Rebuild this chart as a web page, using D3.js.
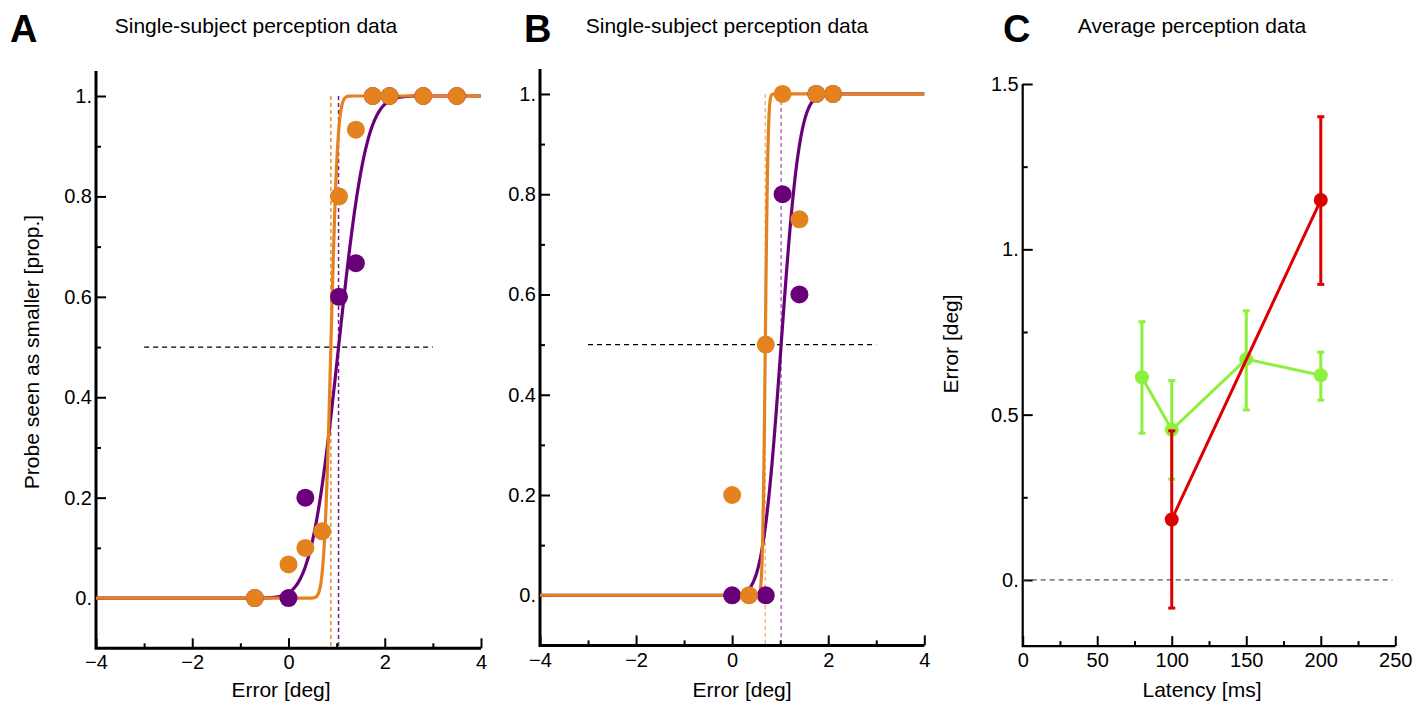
<!DOCTYPE html>
<html>
<head>
<meta charset="utf-8">
<script src="https://cdn.jsdelivr.net/npm/d3@7"></script>
<style>
  body { margin: 0; background: #fff; }
  text { font-family: "Liberation Sans", Arial, Helvetica, sans-serif; fill: #000; }
</style>
</head>
<body>
<div id="chart"></div>
<script>
// single-subject data, [error deg, proportion]
const purpleA = [[-0.7, 0], [0, 0], [0.35, 0.2], [1.05, 0.6], [1.4, 0.667], [1.75, 1], [2.1, 1], [2.8, 1], [3.5, 1]];
const orangeA = [[-0.7, 0], [0, 0.067], [0.35, 0.1], [0.7, 0.133], [1.05, 0.8], [1.4, 0.933], [1.75, 1], [2.1, 1], [2.8, 1], [3.5, 1]];
const purpleB = [[0, 0], [0.7, 0], [1.05, 0.8], [1.4, 0.6], [1.75, 1], [2.1, 1]];
const orangeB = [[0, 0.2], [0.35, 0], [0.7, 0.5], [1.05, 1], [1.4, 0.75], [1.75, 1], [2.1, 1]];

// fitted psychometric curves [mu, sigma]: purple, orange
const fitA = [[1.04, 0.45], [0.88, 0.11]];
const fitB = [[1.02, 0.3], [0.69, 0.045]];
const halfLine = [-3, 3];

// average data
const latency = [80, 100, 150, 200];
const greenMean = [0.613, 0.454, 0.668, 0.619];
const greenLo = [0.444, 0.305, 0.514, 0.544];
const greenHi = [0.781, 0.603, 0.814, 0.689];
const redLatency = [100, 200];
const redMean = [0.183, 1.149];
const redLo = [-0.085, 0.894];
const redHi = [0.451, 1.401];

// ticks
const errTicks = [-4, -2, 0, 2, 4];
const errMinor = [-3, -1, 1, 3];
const propTicks = [0, 0.2, 0.4, 0.6, 0.8, 1];
const propMinor = [0.1, 0.3, 0.5, 0.7, 0.9];
const latTicks = [0, 50, 100, 150, 200, 250];
const latMinor = [25, 75, 125, 175, 225];
const degTicks = [0, 0.5, 1, 1.5];
const degMinor = [0.25, 0.75, 1.25];

const PURPLE = "#690079", ORANGE = "#e3821f", GREEN = "#8cf03c", RED = "#dd0000";

const width = 1427, height = 702;
const svg = d3.select("#chart").append("svg")
  .attr("width", width).attr("height", height);

const fmtY = v => Number.isInteger(v) ? v + "." : String(v);

// normal cdf
function erf(x) {
  var s = x < 0 ? -1 : 1; x = Math.abs(x);
  var t = 1 / (1 + 0.3275911 * x);
  var y = 1 - (((((1.061405429 * t - 1.453152027) * t) + 1.421413741) * t - 0.284496736) * t + 0.254829592) * t * Math.exp(-x * x);
  return s * y;
}
var cdf = (x, mu, sd) => 0.5 * (1 + erf((x - mu) / (sd * Math.SQRT2)));

function drawAxes(g, x, y, xt, xm, yt, ym, xfmt, yfmt, lw) {
  var x0 = x.range()[0], x1 = x.range()[1];
  var yb = y.range()[0], yt0 = y.range()[1];

  g.append("g").attr("transform", "translate(0," + yb + ")")
    .call(d3.axisBottom(x).tickValues(xt).tickSize(-10).tickSizeOuter(0).tickPadding(7).tickFormat(xfmt))
    .call(a => a.select(".domain").remove());
  g.append("g").attr("transform", "translate(0," + yb + ")")
    .call(d3.axisBottom(x).tickValues(xm).tickSize(-5).tickSizeOuter(0).tickFormat(""))
    .call(a => a.select(".domain").remove());
  g.append("g").attr("transform", "translate(" + x0 + ",0)")
    .call(d3.axisLeft(y).tickValues(yt).tickSize(-10).tickSizeOuter(0).tickPadding(4).tickFormat(yfmt))
    .call(a => a.select(".domain").remove());
  g.append("g").attr("transform", "translate(" + x0 + ",0)")
    .call(d3.axisLeft(y).tickValues(ym).tickSize(-5).tickSizeOuter(0).tickFormat(""))
    .call(a => a.select(".domain").remove());

  g.selectAll(".tick line").attr("stroke", "#000").attr("stroke-width", 2);
  g.selectAll(".tick text").style("font-size", "20px").attr("fill", "#000");

  g.append("path")
    .attr("d", "M" + x0 + "," + yt0 + "V" + yb + "H" + x1)
    .attr("fill", "none").attr("stroke", "#000").attr("stroke-width", lw);
}

function psychPanel(opt) {
  var g = svg.append("g");
  var x = d3.scaleLinear().domain([-4, 4]).range(opt.xr);
  var y = d3.scaleLinear().domain([-0.1, 1.05]).range(opt.yr);

  drawAxes(g, x, y, errTicks, errMinor, propTicks, propMinor, d3.format("d"), fmtY, 3);

  g.append("line")
    .attr("x1", x(halfLine[0])).attr("x2", x(halfLine[1]))
    .attr("y1", y(0.5)).attr("y2", y(0.5))
    .attr("stroke", "#000").attr("stroke-width", 1.2).attr("stroke-dasharray", "5,4");

  var colors = [PURPLE, ORANGE];
  // threshold lines
  opt.fit.forEach(function (f, i) {
    g.append("line")
      .attr("x1", x(f[0])).attr("x2", x(f[0]))
      .attr("y1", y(1)).attr("y2", y(-0.1))
      .attr("stroke", colors[i]).attr("stroke-width", 1.5)
      .attr("stroke-opacity", opt.dashOpacity)
      .attr("stroke-dasharray", "4,3");
  });

  var xs = d3.range(-4, 4.0001, 0.01);
  opt.fit.forEach(function (f, i) {
    g.append("path")
      .datum(xs)
      .attr("fill", "none").attr("stroke", colors[i]).attr("stroke-width", 3.2)
      .attr("d", d3.line().x(d => x(d)).y(d => y(cdf(d, f[0], f[1]))));
  });

  [opt.purple, opt.orange].forEach(function (pts, i) {
    g.selectAll(null).data(pts).enter().append("circle")
      .attr("cx", d => x(d[0])).attr("cy", d => y(d[1]))
      .attr("r", 9).attr("fill", colors[i]);
  });

  g.append("text").attr("x", opt.xlab).attr("y", 697).attr("text-anchor", "middle")
    .style("font-size", "21px").text("Error [deg]");
  g.append("text").attr("x", opt.title).attr("y", 33).attr("text-anchor", "middle")
    .style("font-size", "21px").text("Single-subject perception data");
}

psychPanel({ xr: [96, 481], yr: [648.3, 70.9], fit: fitA, purple: purpleA, orange: orangeA,
  dashOpacity: 0.9, xlab: 281, title: 256 });
psychPanel({ xr: [540, 924.3], yr: [645.4, 68.9], fit: fitB, purple: purpleB, orange: orangeB,
  dashOpacity: 0.55, xlab: 742, title: 727 });

svg.append("text").attr("transform", "translate(39,352) rotate(-90)")
  .attr("text-anchor", "middle").style("font-size", "21px")
  .text("Probe seen as smaller [prop.]");

// panel C
var gc = svg.append("g");
var xc = d3.scaleLinear().domain([0, 250]).range([1022.7, 1395.3]);
var yc = d3.scaleLinear().domain([-0.2, 1.5]).range([646.1, 84]);

drawAxes(gc, xc, yc, latTicks, latMinor, degTicks, degMinor, d3.format("d"), fmtY, 2.2);

gc.append("line")
  .attr("x1", xc(0)).attr("x2", xc(248)).attr("y1", yc(0)).attr("y2", yc(0))
  .attr("stroke", "#555").attr("stroke-width", 1.2).attr("stroke-dasharray", "5,4");

function series(xv, mean, lo, hi, color) {
  var pts = xv.map((d, i) => ({ x: d, m: mean[i], lo: lo[i], hi: hi[i] }));
  gc.append("path").datum(pts)
    .attr("fill", "none").attr("stroke", color).attr("stroke-width", 3)
    .attr("d", d3.line().x(d => xc(d.x)).y(d => yc(d.m)));
  var eb = gc.selectAll(null).data(pts).enter().append("g");
  eb.append("line").attr("x1", d => xc(d.x)).attr("x2", d => xc(d.x))
    .attr("y1", d => yc(d.lo)).attr("y2", d => yc(d.hi))
    .attr("stroke", color).attr("stroke-width", 3);
  [d => yc(d.lo), d => yc(d.hi)].forEach(function (fy) {
    eb.append("line").attr("x1", d => xc(d.x) - 3.5).attr("x2", d => xc(d.x) + 3.5)
      .attr("y1", fy).attr("y2", fy)
      .attr("stroke", color).attr("stroke-width", 3);
  });
  eb.append("circle").attr("cx", d => xc(d.x)).attr("cy", d => yc(d.m))
    .attr("r", 7).attr("fill", color);
}
series(latency, greenMean, greenLo, greenHi, GREEN);
series(redLatency, redMean, redLo, redHi, RED);

gc.append("text").attr("x", 1202).attr("y", 697).attr("text-anchor", "middle")
  .style("font-size", "21px").text("Latency [ms]");
gc.append("text").attr("transform", "translate(958,344) rotate(-90)")
  .attr("text-anchor", "middle").style("font-size", "21px").text("Error [deg]");
gc.append("text").attr("x", 1192).attr("y", 33).attr("text-anchor", "middle")
  .style("font-size", "21px").text("Average perception data");

// panel letters
[["A", 10], ["B", 524], ["C", 1003]].forEach(function (p) {
  svg.append("text").attr("x", p[1]).attr("y", 42)
    .style("font-size", "38px").style("font-weight", "900").text(p[0]);
});
</script>
</body>
</html>
